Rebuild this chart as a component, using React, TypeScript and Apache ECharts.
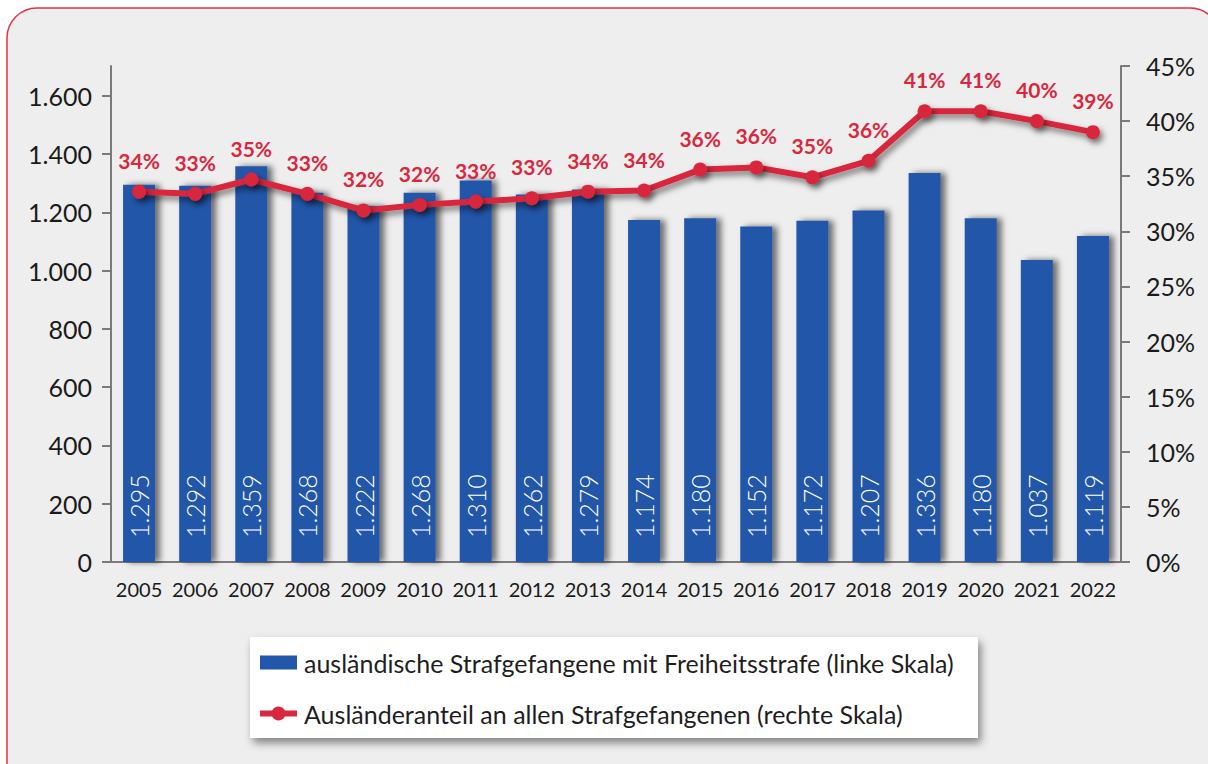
import React, { useEffect, useRef } from "react";
import * as echarts from "echarts";

const years = ["2005","2006","2007","2008","2009","2010","2011","2012","2013","2014","2015","2016","2017","2018","2019","2020","2021","2022"];
const prisoners = [1295,1292,1359,1268,1222,1268,1310,1262,1279,1174,1180,1152,1172,1207,1336,1180,1037,1119];
const shares = [33.6,33.4,34.7,33.4,31.9,32.4,32.7,33.0,33.6,33.7,35.6,35.8,34.9,36.4,40.9,40.9,40.0,39.0];
const leftTicks = [0,200,400,600,800,1000,1200,1400,1600];
const barName = "ausländische Strafgefangene mit Freiheitsstrafe (linke Skala)";
const lineName = "Ausländeranteil an allen Strafgefangenen (rechte Skala)";

const BLUE = "#2357a9";
const RED = "#d8283e";
const AXIS = "#7a7a7a";
const FONT = "Lato";
const LINE_ICON = "path://M0 4H37V10H0Z M18.5 0A7 7 0 1 1 18.49 0Z";

const de = (v: number) => v.toLocaleString("de-DE");

export default function App() {
  const ref = useRef<HTMLDivElement>(null);
  useEffect(() => {
    if (!ref.current) return;
    const chart = echarts.init(ref.current, undefined, { renderer: "svg" });
    chart.setOption({
      animation: false,
      backgroundColor: "#ffffff",
      textStyle: { fontFamily: FONT },
      graphic: [
        {
          type: "rect",
          z: -10,
          shape: { x: 7, y: 8, width: 1213, height: 800, r: 30 },
          style: { fill: "#eeeeee", stroke: "#e3343f", lineWidth: 1.5 },
        },
        {
          type: "rect",
          z: -5,
          shape: { x: 250, y: 637, width: 728, height: 101 },
          style: {
            fill: "#ffffff",
            shadowColor: "rgba(0,0,0,0.45)",
            shadowBlur: 8,
            shadowOffsetX: 3,
            shadowOffsetY: 5,
          },
        },
      ],
      grid: { left: 111, right: 87, top: 66, bottom: 202 },
      legend: {
        orient: "vertical",
        left: 260,
        top: 650,
        padding: 0,
        itemWidth: 37,
        itemHeight: 14,
        itemGap: 26,
        z: 10,
        textStyle: { fontSize: 25, color: "#1e1e1e", fontFamily: FONT, lineHeight: 25, padding: [0, 0, 0, 2] },
        data: [
          { name: barName, icon: "rect" },
          { name: lineName, icon: LINE_ICON, itemStyle: { color: RED } },
        ],
      },
      xAxis: {
        type: "category",
        data: years,
        axisLine: { lineStyle: { color: AXIS, width: 2 } },
        axisTick: { show: false },
        axisLabel: { color: "#1a1a1a", fontSize: 20, margin: 17, fontFamily: FONT, interval: 0 },
      },
      yAxis: [
        {
          type: "value",
          min: 0,
          max: 1703,
          interval: 200,
          splitLine: { show: false },
          axisLine: { show: true, lineStyle: { color: AXIS, width: 2 } },
          axisTick: { show: true, length: 9, lineStyle: { color: AXIS, width: 2 }, customValues: leftTicks },
          axisLabel: {
            color: "#1a1a1a",
            fontSize: 25,
            margin: 19,
            fontFamily: FONT,
            customValues: leftTicks,
            formatter: (v: number) => de(v),
          },
        },
        {
          type: "value",
          min: 0,
          max: 45,
          interval: 5,
          position: "right",
          splitLine: { show: false },
          axisLine: { show: true, lineStyle: { color: AXIS, width: 2 } },
          axisTick: { show: true, length: 9, lineStyle: { color: AXIS, width: 2 } },
          axisLabel: { color: "#1a1a1a", fontSize: 25, margin: 25, fontFamily: FONT, formatter: "{value}%" },
        },
      ],
      series: [
        {
          name: barName,
          type: "bar",
          data: prisoners,
          barWidth: 32,
          yAxisIndex: 0,
          itemStyle: {
            color: BLUE,
            shadowColor: "rgba(0,0,0,0.55)",
            shadowBlur: 6,
            shadowOffsetX: 5,
            shadowOffsetY: 0,
          },
          label: {
            show: true,
            position: "insideBottom",
            distance: 24,
            rotate: 90,
            align: "left",
            verticalAlign: "middle",
            color: "#ffffff",
            fontSize: 25,
            fontFamily: FONT,
            fontWeight: 300,
            formatter: (p: any) => de(p.value),
          },
        },
        {
          name: lineName,
          type: "line",
          data: shares,
          yAxisIndex: 1,
          z: 5,
          symbol: "circle",
          symbolSize: 14,
          lineStyle: {
            color: RED,
            width: 6,
            shadowColor: "rgba(0,0,0,0.5)",
            shadowBlur: 6,
            shadowOffsetX: 3,
            shadowOffsetY: 4,
          },
          itemStyle: {
            color: RED,
            shadowColor: "rgba(0,0,0,0.5)",
            shadowBlur: 6,
            shadowOffsetX: 3,
            shadowOffsetY: 4,
          },
          label: {
            show: true,
            position: "top",
            distance: 14,
            color: RED,
            fontSize: 21,
            fontWeight: "bold",
            fontFamily: FONT,
            formatter: (p: any) => Math.round(p.value) + "%",
          },
        },
      ],
    });
    return () => chart.dispose();
  }, []);
  return (
    <div
      ref={ref}
      style={{ position: "absolute", left: 0, top: 0, width: 1208, height: 764 }}
    />
  );
}
